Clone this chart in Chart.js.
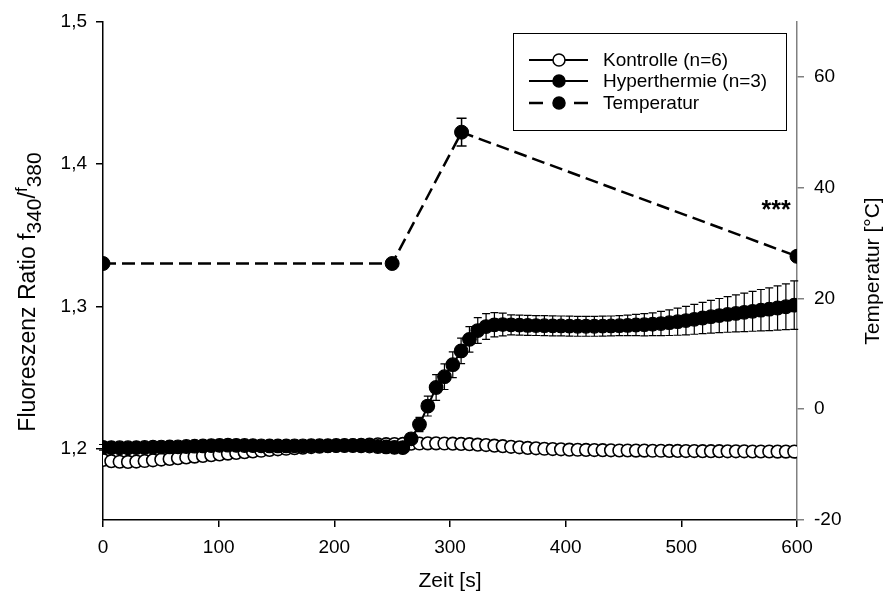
<!DOCTYPE html>
<html>
<head>
<meta charset="utf-8">
<script src="https://cdn.jsdelivr.net/npm/chart.js@4.4.1/dist/chart.umd.min.js"></script>
<style>
html,body{margin:0;padding:0;background:#fff;}
#wrap{width:887px;height:601px;}
</style>
</head>
<body>
<div id="wrap"><canvas id="c" width="887" height="601"></canvas></div>
<script>
// ---- data ----
const times = [0,7.2,14.4,21.6,28.8,36,43.2,50.4,57.6,64.8,72,79.2,86.4,93.6,100.8,108,115.2,122.4,129.6,136.8,
144,151.2,158.4,165.6,172.8,180,187.2,194.4,201.6,208.8,216,223.2,230.4,237.6,244.8,252,259.2,266.4,273.6,280.8,
288,295.2,302.4,309.6,316.8,324,331.2,338.4,345.6,352.8,360,367.2,374.4,381.6,388.8,396,403.2,410.4,417.6,424.8,
432,439.2,446.4,453.6,460.8,468,475.2,482.4,489.6,496.8,504,511.2,518.4,525.6,532.8,540,547.2,554.4,561.6,568.8,
576,583.2,590.4,597.6];

const kontrolle = [1.1922,1.1913,1.1909,1.1908,1.1910,1.1914,1.1919,1.1924,1.1929,1.1934,1.1939,1.1945,1.1950,1.1955,1.1960,1.1966,1.1971,1.1976,1.1981,1.1986,
1.1992,1.1996,1.2000,1.2004,1.2008,1.2012,1.2015,1.2018,1.2021,1.2023,1.2025,1.2027,1.2029,1.2031,1.2032,1.2033,1.2034,1.2036,1.2037,1.2038,
1.2038,1.2037,1.2036,1.2034,1.2032,1.2029,1.2026,1.2022,1.2018,1.2014,1.2010,1.2006,1.2003,1.2000,1.1998,1.1996,1.1994,1.1993,1.1992,1.1991,
1.1990,1.1989,1.1988,1.1988,1.1987,1.1987,1.1986,1.1986,1.1985,1.1985,1.1984,1.1984,1.1983,1.1983,1.1983,1.1982,1.1982,1.1982,1.1981,1.1981,
1.1981,1.1980,1.1980,1.1980];

const hyper = [1.2010,1.2008,1.2007,1.2007,1.2008,1.2009,1.2011,1.2012,1.2013,1.2014,1.2016,1.2018,1.2020,1.2022,1.2024,1.2025,1.2024,1.2023,1.2022,1.2021,
1.2020,1.2020,1.2020,1.2021,1.2021,1.2022,1.2022,1.2022,1.2023,1.2023,1.2022,1.2021,1.2019,1.2016,1.2013,1.2010,1.2008,1.2070,1.2170,1.2300,
1.2430,1.2506,1.2590,1.2687,1.2768,1.2830,1.2858,1.2870,1.2872,1.2870,1.2868,1.2866,1.2865,1.2864,1.2863,1.2862,1.2861,1.2860,1.2860,1.2860,
1.2861,1.2862,1.2864,1.2866,1.2869,1.2871,1.2874,1.2879,1.2885,1.2892,1.2900,1.2909,1.2918,1.2927,1.2935,1.2943,1.2950,1.2958,1.2965,1.2973,
1.2980,1.2988,1.2997,1.3008];

const hyperErr = [0.002,0.002,0.002,0.002,0.002,0.002,0.002,0.002,0.002,0.002,0.002,0.002,0.002,0.002,0.002,0.002,0.002,0.002,0.002,0.002,
0.002,0.002,0.002,0.002,0.002,0.002,0.002,0.002,0.002,0.002,0.002,0.002,0.002,0.002,0.002,0.002,0.002,0.003,0.005,0.007,
0.009,0.009,0.009,0.009,0.009,0.009,0.009,0.0085,0.008,0.007,0.007,0.007,0.007,0.007,0.007,0.007,0.007,0.007,0.007,0.007,
0.007,0.007,0.007,0.0072,0.0075,0.0078,0.008,0.0085,0.009,0.0095,0.010,0.0105,0.011,0.0115,0.012,0.0125,0.013,0.0135,0.014,0.0145,
0.015,0.0155,0.016,0.017];

const tempTimes = [0,250,310,600];
const tempValues = [26.3,26.3,50,27.6];
const tempErr = [0,0,2.5,0];

const xTicks = [0,100,200,300,400,500,600];
const yTicks = [1.2,1.3,1.4,1.5];
const y2Ticks = [-20,0,20,40,60];

const legendLabels = ['Kontrolle (n=6)','Hyperthermie (n=3)','Temperatur'];
const xTitle = 'Zeit [s]';
const y2Title = 'Temperatur [°C]';
const sigText = '***';

// ---- chart ----
const FONT = '"Liberation Sans", Arial, sans-serif';
const pts = (xs, ys) => xs.map((x, i) => ({x: x, y: ys[i]}));

function errorBars(ctx, xs, ys, es, sx, sy, cap, lw){
  ctx.save();
  ctx.strokeStyle = '#000';
  ctx.lineWidth = lw;
  for (let i = 0; i < xs.length; i++) {
    if (!es[i]) continue;
    const px = sx.getPixelForValue(xs[i]);
    const top = sy.getPixelForValue(ys[i] + es[i]);
    const bot = sy.getPixelForValue(ys[i] - es[i]);
    ctx.beginPath();
    ctx.moveTo(px, top); ctx.lineTo(px, bot);
    ctx.moveTo(px - cap, top); ctx.lineTo(px + cap, top);
    ctx.moveTo(px - cap, bot); ctx.lineTo(px + cap, bot);
    ctx.stroke();
  }
  ctx.restore();
}

const decor = {
  id: 'decor',
  beforeDatasetsDraw(chart){
    const ctx = chart.ctx, s = chart.scales;
    errorBars(ctx, times, hyper, hyperErr, s.x, s.y, 4, 1.2);
    errorBars(ctx, tempTimes, tempValues, tempErr, s.x, s.y2, 5, 1.5);
  },
  afterDraw(chart){
    const ctx = chart.ctx, s = chart.scales, a = chart.chartArea;
    ctx.save();
    ctx.fillStyle = '#000';
    // x title
    ctx.font = '21px ' + FONT;
    ctx.textAlign = 'center';
    ctx.textBaseline = 'middle';
    ctx.fillText(xTitle, (a.left + a.right) / 2, 581);
    // right title
    ctx.save();
    ctx.translate(873, 271);
    ctx.rotate(-Math.PI / 2);
    ctx.fillText(y2Title, 0, 0);
    ctx.restore();
    // left title with sub/superscripts
    const segs = [
      {t:'Fluoreszenz Ratio f', size:23, dy:0},
      {t:'340', size:21, dy:6},
      {t:'/', size:23, dy:0},
      {t:'f', size:17, dy:-7},
      {t:'380', size:21, dy:6}
    ];
    let total = 0;
    segs.forEach(g => { ctx.font = g.size + 'px ' + FONT; g.w = ctx.measureText(g.t).width; total += g.w; });
    ctx.save();
    ctx.translate(29, 292);
    ctx.rotate(-Math.PI / 2);
    ctx.textAlign = 'left';
    let cx = -total / 2;
    segs.forEach(g => { ctx.font = g.size + 'px ' + FONT; ctx.fillText(g.t, cx, g.dy); cx += g.w; });
    ctx.restore();
    // significance
    ctx.font = 'bold 25px ' + FONT;
    ctx.textAlign = 'center';
    ctx.fillText(sigText, s.x.getPixelForValue(582), s.y2.getPixelForValue(35.8));
    // legend
    ctx.strokeStyle = '#000';
    ctx.lineWidth = 1;
    ctx.strokeRect(513.5, 33.5, 273, 97);
    const rows = [60, 81, 103];
    ctx.font = '19px ' + FONT;
    ctx.textAlign = 'left';
    rows.forEach((yy, i) => {
      ctx.save();
      ctx.lineWidth = i === 2 ? 2.5 : 2;
      ctx.beginPath();
      if (i === 2) {
        ctx.moveTo(529, yy); ctx.lineTo(543, yy);
        ctx.moveTo(574, yy); ctx.lineTo(588, yy);
      } else {
        ctx.moveTo(529, yy); ctx.lineTo(588, yy);
      }
      ctx.stroke();
      ctx.beginPath();
      ctx.arc(559, yy, 6, 0, Math.PI * 2);
      ctx.fillStyle = i === 0 ? '#fff' : '#000';
      ctx.fill();
      ctx.lineWidth = 1.5;
      ctx.stroke();
      ctx.restore();
      ctx.fillText(legendLabels[i], 603, yy + 1);
    });
    ctx.restore();
  }
};

const tickFont = {family: FONT, size: 19};

new Chart(document.getElementById('c'), {
  type: 'line',
  data: {
    datasets: [
      {
        label: legendLabels[2], data: pts(tempTimes, tempValues), yAxisID: 'y2',
        borderColor: '#000', borderWidth: 2.5, borderDash: [13, 6],
        pointRadius: 7, pointBackgroundColor: '#000', pointBorderColor: '#000', pointBorderWidth: 1,
        fill: false, tension: 0
      },
      {
        label: legendLabels[1], data: pts(times, hyper), yAxisID: 'y',
        borderColor: '#000', borderWidth: 2,
        pointRadius: 6.8, pointBackgroundColor: '#000', pointBorderColor: '#000', pointBorderWidth: 1.2,
        fill: false, tension: 0
      },
      {
        label: legendLabels[0], data: pts(times, kontrolle), yAxisID: 'y',
        borderColor: '#000', borderWidth: 2,
        pointRadius: 6.3, pointBackgroundColor: '#fff', pointBorderColor: '#000', pointBorderWidth: 1.6,
        fill: false, tension: 0
      }
    ]
  },
  options: {
    responsive: false,
    animation: false,
    devicePixelRatio: 1,
    layout: {padding: {top: 20, left: 0, right: 0, bottom: 0}},
    plugins: {legend: {display: false}, tooltip: {enabled: false}},
    scales: {
      x: {
        type: 'linear', min: 0, max: 600,
        afterBuildTicks: sc => { sc.ticks = xTicks.map(v => ({value: v})); },
        afterFit: sc => { sc.height = 81; },
        ticks: {font: tickFont, color: '#000', padding: 9, maxRotation: 0, callback: v => String(v)},
        grid: {drawOnChartArea: false, drawTicks: true, tickLength: 7, color: '#000', lineWidth: 1.5},
        border: {display: true, color: '#000', width: 1.5}
      },
      y: {
        type: 'linear', position: 'left', min: 1.15, max: 1.5,
        afterBuildTicks: sc => { sc.ticks = yTicks.map(v => ({value: v})); },
        afterFit: sc => { sc.width = 103; },
        ticks: {font: tickFont, color: '#000', padding: 9, callback: v => v.toFixed(1).replace('.', ',')},
        grid: {drawOnChartArea: false, drawTicks: true, tickLength: 7, color: '#000', lineWidth: 1.5},
        border: {display: true, color: '#000', width: 1.5}
      },
      y2: {
        type: 'linear', position: 'right', min: -20, max: 70,
        afterBuildTicks: sc => { sc.ticks = y2Ticks.map(v => ({value: v})); },
        afterFit: sc => { sc.width = 90; },
        ticks: {font: tickFont, color: '#000', padding: 10, callback: v => String(v)},
        grid: {drawOnChartArea: false, drawTicks: true, tickLength: 7, color: '#808080', lineWidth: 1.5},
        border: {display: true, color: '#808080', width: 1.5}
      }
    }
  },
  plugins: [decor]
});
</script>
</body>
</html>
